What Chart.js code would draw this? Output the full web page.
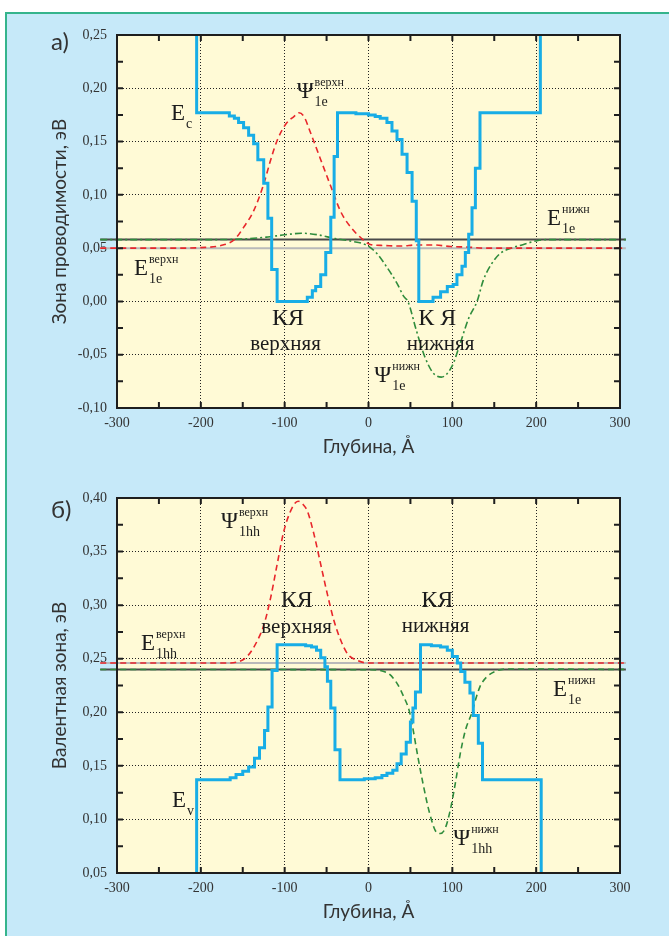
<!DOCTYPE html>
<html>
<head>
<meta charset="utf-8">
<script src="https://cdn.jsdelivr.net/npm/chart.js@4.4.1/dist/chart.umd.min.js"></script>
<style>
  body { margin: 0; background: #fff; width: 669px; height: 936px; position: relative; overflow: hidden; }
  #bg { position: absolute; left: 5px; top: 12px; right: 0; bottom: 0; background: #c6e9f9;
        border-left: 2px solid #35b48c; border-top: 2px solid #35b48c; }
  canvas { position: absolute; left: 0; }
  #topChart { top: 0; }
  #botChart { top: 468px; }
</style>
</head>
<body>
<div id="bg"></div>
<canvas id="topChart" width="669" height="468"></canvas>
<canvas id="botChart" width="669" height="468"></canvas>
<script>
// --- data (depth in Å, energy in eV) ---

// conduction band edge Ec (staircase, each value holds until next depth)
const ecDepth  = [-205, -205, -166, -160, -155, -149, -143, -137, -132, -125, -120, -115.5, -109,
                  -73, -67, -63, -57, -51, -45, -41, -37, -15, 0, 8, 14, 22, 28, 34, 40, 46, 52, 57, 60,
                  77, 86, 94, 101, 105.5, 111.5, 115.5, 119.5, 123.5, 127.5, 133, 205];
const ecEnergy = [0.30, 0.177, 0.174, 0.172, 0.168, 0.163, 0.156, 0.148, 0.133, 0.111, 0.078, 0.030, 0.000,
                  0.004, 0.010, 0.014, 0.025, 0.046, 0.079, 0.136, 0.177, 0.176, 0.175, 0.1735, 0.172, 0.168, 0.160, 0.152, 0.138, 0.121, 0.094, 0.057, 0.000,
                  0.004, 0.009, 0.014, 0.016, 0.025, 0.033, 0.046, 0.063, 0.088, 0.125, 0.177, 0.30];

// electron wavefunction, upper well
const psiEUpDepth = [-320, -230, -200, -176, -160, -149, -137, -125, -117, -109, -99, -89, -83, -77, -69, -57, -45, -33, -21, -9.5, 2, 18, 38, 58, 78, 98, 118, 137, 307];
const psiEUpValue = [0.050, 0.050, 0.0505, 0.0525, 0.058, 0.0695, 0.085, 0.110, 0.132, 0.151, 0.166, 0.1735, 0.177, 0.1735, 0.158, 0.133, 0.108, 0.084, 0.0695, 0.060, 0.0535, 0.0525, 0.052, 0.053, 0.053, 0.0515, 0.051, 0.050, 0.050];

// electron wavefunction, lower well
const psiELowDepth = [-320, -200, -150, -120, -100, -80, -60, -40, -20, -2, 10, 22, 34, 42, 47, 57, 67, 77, 87, 99.5, 109.5, 119.6, 129.5, 137, 147, 157, 169, 185, 201, 215, 307];
const psiELowValue = [0.058, 0.058, 0.0585, 0.0605, 0.0625, 0.064, 0.0625, 0.059, 0.0565, 0.0527, 0.045, 0.032, 0.017, 0.0047, 0.0, -0.027, -0.0516, -0.067, -0.071, -0.061, -0.039, -0.0156, 0.0, 0.020, 0.0355, 0.045, 0.0497, 0.0535, 0.057, 0.058, 0.058];

// valence band edge Ev (staircase)
const evDepth  = [-205, -205, -165, -158, -150, -143, -136, -130, -124, -120, -115, -109,
                  -75, -68, -62, -57, -52, -49, -45, -40, -34, -5, 8, 16, 22, 29, 34, 39, 45, 50, 53, 56, 62,
                  75, 86, 94, 100, 106, 110, 115, 121, 125, 131, 136, 206];
const evEnergy = [0.0, 0.137, 0.139, 0.142, 0.145, 0.149, 0.157, 0.167, 0.183, 0.205, 0.239, 0.263,
                  0.262, 0.261, 0.258, 0.251, 0.2425, 0.229, 0.204, 0.165, 0.137, 0.138, 0.139, 0.141, 0.143, 0.146, 0.152, 0.161, 0.172, 0.191, 0.204, 0.219, 0.263,
                  0.262, 0.261, 0.258, 0.252, 0.246, 0.238, 0.228, 0.218, 0.197, 0.171, 0.137, 0.0];

// heavy-hole wavefunction, upper well
const psiHUpDepth = [-320, -170, -156, -144, -132.5, -124.6, -116.7, -109, -101, -91, -84, -77, -73, -65, -57, -49, -41, -33, -25, -13.5, -1.5, 307];
const psiHUpValue = [0.246, 0.246, 0.247, 0.2528, 0.267, 0.282, 0.307, 0.338, 0.369, 0.391, 0.397, 0.393, 0.388, 0.366, 0.338, 0.310, 0.285, 0.267, 0.2545, 0.2485, 0.246, 0.246];

// heavy-hole wavefunction, lower well
const psiHLowDepth = [-320, 0, 22, 34, 42, 48, 51, 59, 65, 73, 81, 85.5, 91.4, 97.5, 103.5, 109.5, 115.5, 123.7, 127.4, 133, 141, 153, 165, 307];
const psiHLowValue = [0.240, 0.2397, 0.237, 0.227, 0.2145, 0.203, 0.193, 0.158, 0.1335, 0.1055, 0.088, 0.0868, 0.0915, 0.1086, 0.1335, 0.1616, 0.183, 0.2005, 0.211, 0.224, 0.233, 0.2388, 0.2404, 0.240];

// energy levels (horizontal lines)
const levelSpan = [-320, 307];
const levelsTop = { upper: 0.050, lower: 0.058 };
const levelsBot = { upper: 0.246, lower: 0.240 };

// axis ranges
const depthRange = [-300, 300];
const topRange = [-0.10, 0.25];
const botRange = [0.05, 0.40];

// text labels on the plots
const topNotes = [
  { main: 'E', sub: 'c', x: -235.7, y: 0.170 },
  { main: 'Ψ', sup: 'верхн', sub: '1e', x: -85.7, y: 0.191 },
  { main: 'E', sup: 'верхн', sub: '1e', x: -279.8, y: 0.025 },
  { main: 'E', sup: 'нижн', sub: '1e', x: 213, y: 0.072 },
  { main: 'Ψ', sup: 'нижн', sub: '1e', x: 7, y: -0.076 },
  { big: 'КЯ', x: -96, y: -0.022 },
  { word: 'верхняя', x: -99, y: -0.046 },
  { big: 'К Я', x: 82, y: -0.022 },
  { word: 'нижняя', x: 86, y: -0.0453 }
];
const botNotes = [
  { main: 'Ψ', sup: 'верхн', sub: '1hh', x: -176, y: 0.372 },
  { big: 'КЯ', x: -85.7, y: 0.298 },
  { word: 'верхняя', x: -85.7, y: 0.274 },
  { main: 'E', sup: 'верхн', sub: '1hh', x: -271.4, y: 0.258 },
  { big: 'КЯ', x: 82, y: 0.298 },
  { word: 'нижняя', x: 80, y: 0.275 },
  { main: 'E', sup: 'нижн', sub: '1e', x: 220, y: 0.215 },
  { main: 'E', sub: 'v', x: -234.5, y: 0.1115 },
  { main: 'Ψ', sup: 'нижн', sub: '1hh', x: 101, y: 0.076 }
];

// --- helpers ---
const pts = (xs, ys) => xs.map((x, i) => ({ x, y: ys[i] }));
const comma = v => (Math.abs(v) < 1e-9 ? 0 : v).toFixed(2).replace('.', ',');
const serif = '"Liberation Serif", "Times New Roman", serif';

// cream plot area
const plotBg = {
  id: 'plotBg',
  beforeDraw(chart) {
    const { ctx, chartArea: a } = chart;
    ctx.save();
    ctx.fillStyle = '#fffad6';
    ctx.fillRect(a.left, a.top, a.right - a.left, a.bottom - a.top);
    ctx.restore();
  }
};

// frame + inward ticks on all four sides
const frame = {
  id: 'frame',
  afterDraw(chart, args, opts) {
    const { ctx, chartArea: a, scales: { x, y } } = chart;
    ctx.save();
    ctx.strokeStyle = '#1e1e1e';
    ctx.lineWidth = 2;
    ctx.beginPath();
    for (let v = x.min; v <= x.max + 1e-9; v += opts.xMinor) {
      const px = x.getPixelForValue(v);
      ctx.moveTo(px, a.bottom); ctx.lineTo(px, a.bottom - 6);
      ctx.moveTo(px, a.top); ctx.lineTo(px, a.top + 6);
    }
    const n = Math.round((y.max - y.min) / opts.yMinor);
    for (let i = 0; i <= n; i++) {
      const py = y.getPixelForValue(y.min + i * opts.yMinor);
      ctx.moveTo(a.left, py); ctx.lineTo(a.left + 6, py);
      ctx.moveTo(a.right, py); ctx.lineTo(a.right - 6, py);
    }
    ctx.stroke();
    ctx.strokeRect(a.left, a.top, a.right - a.left, a.bottom - a.top);
    // panel letter
    ctx.fillStyle = '#333';
    ctx.font = '24px Lato, sans-serif';
    ctx.textBaseline = 'alphabetic';
    ctx.fillText(opts.panel, 51, 50);
    ctx.restore();
  }
};

// E / Ψ symbols with indices, and the well captions
const notes = {
  id: 'notes',
  afterDraw(chart, args, opts) {
    const { ctx, scales: { x, y } } = chart;
    ctx.save();
    ctx.fillStyle = '#1c1c1c';
    ctx.textBaseline = 'alphabetic';
    opts.items.forEach(n => {
      const px = x.getPixelForValue(n.x);
      const py = y.getPixelForValue(n.y);
      if (n.big || n.word) {
        ctx.textAlign = 'center';
        ctx.font = (n.big ? '24px ' : '21px ') + serif;
        ctx.fillText(n.big || n.word, px, py);
        return;
      }
      ctx.textAlign = 'left';
      ctx.font = '23px ' + serif;
      ctx.fillText(n.main, px, py);
      const w = ctx.measureText(n.main).width + 1;
      if (n.sup) {
        ctx.font = '12px ' + serif;
        ctx.fillText(n.sup, px + w, py - 12);
      }
      if (n.sub) {
        ctx.font = '14px ' + serif;
        ctx.fillText(n.sub, px + w, py + 8);
      }
    });
    ctx.restore();
  }
};

function line(data, color, width, dash, order, extra) {
  return Object.assign({
    data, showLine: true, pointRadius: 0, borderColor: color, borderWidth: width,
    borderDash: dash, order, clip: false, cubicInterpolationMode: 'monotone'
  }, extra || {});
}

function buildConfig(o) {
  return {
    type: 'scatter',
    data: { datasets: o.datasets },
    options: {
      responsive: false,
      animation: false,
      layout: { padding: { left: 0, right: 49, top: o.padTop, bottom: 0 } },
      plugins: {
        legend: { display: false },
        tooltip: { enabled: false },
        frame: { xMinor: 50, yMinor: 0.025, panel: o.panel },
        notes: { items: o.notes }
      },
      scales: {
        x: {
          type: 'linear', min: depthRange[0], max: depthRange[1],
          afterFit: s => { s.height = o.xHeight; },
          ticks: { stepSize: 100, padding: 7, color: '#333', font: { family: serif, size: 14 },
                   callback: v => String(v) },
          grid: { color: '#222', lineWidth: 1, drawTicks: false },
          border: { display: false, dash: [1, 2] },
          title: { display: true, text: 'Глубина, Å', color: '#333',
                   font: { family: 'Lato, sans-serif', size: 19 }, padding: { top: 0, bottom: o.titlePad } }
        },
        y: {
          min: o.yRange[0], max: o.yRange[1],
          afterFit: s => { s.width = 117; },
          ticks: { stepSize: 0.05, padding: 10, color: '#333', font: { family: serif, size: 14 },
                   callback: v => comma(v) },
          grid: { color: '#222', lineWidth: 1, drawTicks: false },
          border: { display: false, dash: [1, 2] },
          title: { display: true, text: o.yTitle, color: '#333',
                   font: { family: 'Lato, sans-serif', size: 19 }, padding: { top: 48, bottom: 0 } }
        }
      }
    },
    plugins: [plotBg, frame, notes]
  };
}

const blue = '#18ade6', red = '#e8262b', green = '#2f8c3c', grey = '#b9b9b9', dark = '#4a4a4a';

new Chart(document.getElementById('topChart'), buildConfig({
  panel: 'а)', padTop: 35, xHeight: 60, titlePad: 10, yRange: topRange,
  yTitle: 'Зона проводимости, эВ', notes: topNotes,
  datasets: [
    line(pts(ecDepth, ecEnergy), blue, 3, [], 0, { stepped: 'before', clip: undefined, cubicInterpolationMode: 'default' }),
    line(pts(psiEUpDepth, psiEUpValue), red, 1.6, [6, 4], 1),
    line(pts(psiELowDepth, psiELowValue), green, 1.6, [7, 3, 2, 3], 1),
    line(pts(levelSpan, levelSpan.map(() => levelsTop.upper)), grey, 2, [], 3, { cubicInterpolationMode: 'default' }),
    line(pts(levelSpan, levelSpan.map(() => levelsTop.lower)), dark, 2, [], 3, { cubicInterpolationMode: 'default' })
  ]
}));

new Chart(document.getElementById('botChart'), buildConfig({
  panel: 'б)', padTop: 30, xHeight: 63, titlePad: 13, yRange: botRange,
  yTitle: 'Валентная зона, эВ', notes: botNotes,
  datasets: [
    line(pts(evDepth, evEnergy), blue, 3, [], 0, { stepped: 'before', clip: undefined, cubicInterpolationMode: 'default' }),
    line(pts(psiHUpDepth, psiHUpValue), red, 1.6, [6, 4], 1),
    line(pts(psiHLowDepth, psiHLowValue), green, 1.6, [6, 4], 1),
    line(pts(levelSpan, levelSpan.map(() => levelsBot.upper)), grey, 2, [], 3, { cubicInterpolationMode: 'default' }),
    line(pts(levelSpan, levelSpan.map(() => levelsBot.lower)), dark, 2, [], 3, { cubicInterpolationMode: 'default' })
  ]
}));
</script>
</body>
</html>
